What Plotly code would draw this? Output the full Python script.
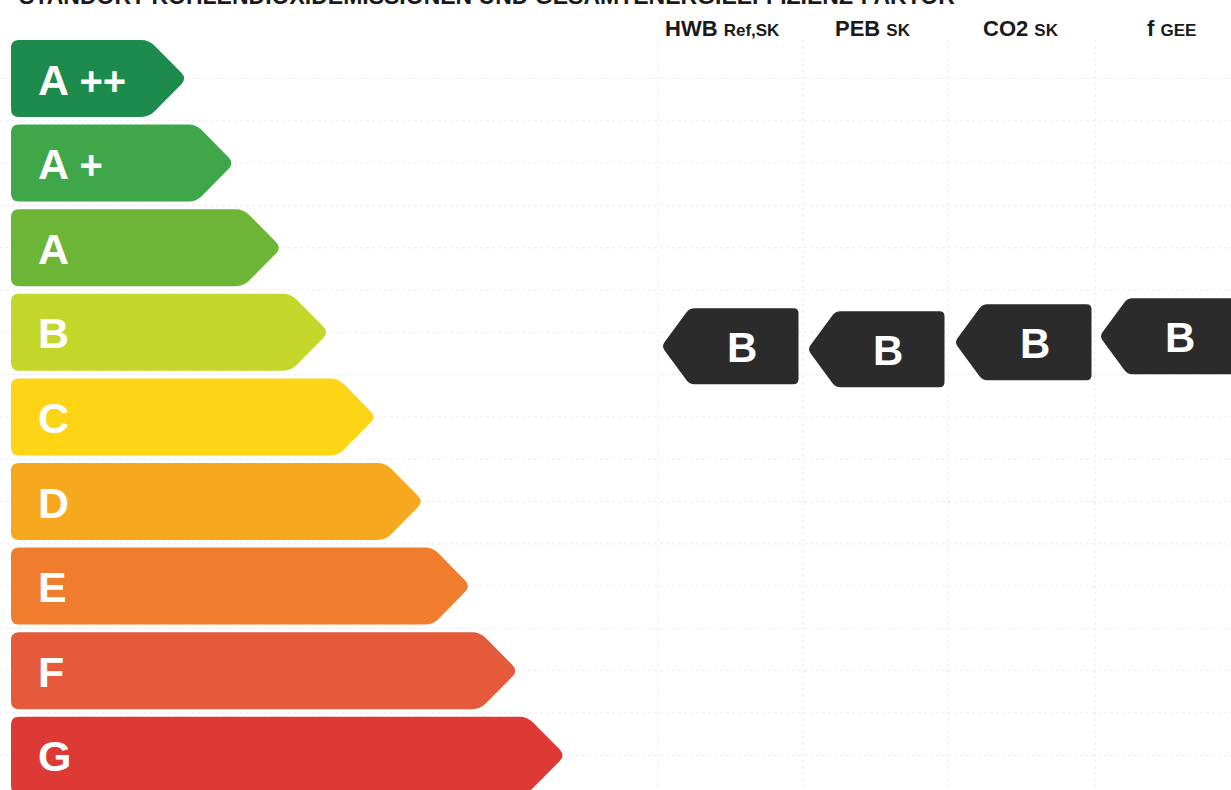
import plotly.graph_objects as go

# ---------------- data ----------------
classes = ["A++", "A+", "A", "B", "C", "D", "E", "F", "G"]
class_colors = ["#1d8b4b", "#3fa649", "#6db536", "#c3d72b", "#fdd516",
                "#f6a91f", "#f07c2d", "#e45a3b", "#de3a35"]
indicators = ["HWB", "PEB", "CO2", "f"]
indicator_subs = ["Ref,SK", "SK", "SK", "GEE"]
ratings = ["B", "B", "B", "B"]
title_text = "STANDORT-KOHLENDIOXIDEMISSIONEN UND GESAMTENERGIEEFFIZIENZ-FAKTOR"

# ---------------- layout geometry ----------------
W, H = 1231, 790
row_top0, row_pitch, row_h = 40.0, 84.6, 77.0
arrow_left, tip0, tip_step, point_len = 11.0, 187.0, 47.3, 38.0
col_centers = [730.0, 876.0, 1023.0, 1169.0]
col_lines = [658.0, 803.0, 948.0, 1095.0]
head_dx = [-8.0, -3.0, -2.0, 2.0]
marker_dy = [14.0, 17.0, 10.0, 4.0]   # scan skew of the result markers
marker_dx = [0.0, 0.0, 0.0, -1.0]
marker_w, marker_h, marker_pt = 137.0, 76.0, 28.0
FONT = "Liberation Sans, Arial, sans-serif"


def rounded_path(pts, r):
    n = len(pts)
    segs = []
    for i in range(n):
        p0 = pts[i - 1]
        p1 = pts[i]
        p2 = pts[(i + 1) % n]
        def towards(a, b, d):
            dx, dy = b[0] - a[0], b[1] - a[1]
            L = (dx * dx + dy * dy) ** 0.5
            d = min(d, L / 2)
            return (a[0] + dx / L * d, a[1] + dy / L * d)
        a = towards(p1, p0, r)
        b = towards(p1, p2, r)
        segs.append((a, p1, b))
    d = "M %.2f,%.2f " % segs[0][0]
    for i, (a, c, b) in enumerate(segs):
        if i > 0:
            d += "L %.2f,%.2f " % a
        d += "Q %.2f,%.2f %.2f,%.2f " % (c[0], c[1], b[0], b[1])
    d += "Z"
    return d


shapes = []
annotations = []

# faint dotted grid of the form
grid_col = "rgba(200,205,210,0.4)"
k = 0
while True:
    y = row_top0 + row_h / 2 + k * row_pitch / 2
    if y > H:
        break
    shapes.append(dict(type="line", xref="x", yref="y", x0=0, x1=W, y0=y, y1=y,
                       line=dict(color=grid_col, width=1, dash="dot"), layer="below"))
    k += 1
for xl in col_lines:
    shapes.append(dict(type="line", xref="x", yref="y", x0=xl, x1=xl, y0=40, y1=H,
                       line=dict(color=grid_col, width=1, dash="dot"), layer="below"))

# class arrows
for i, (cls, col) in enumerate(zip(classes, class_colors)):
    y0 = row_top0 + i * row_pitch
    y1 = y0 + row_h
    ym = (y0 + y1) / 2
    tip = tip0 + i * tip_step
    xb = tip - point_len
    pts = [(arrow_left, y0), (xb, y0), (tip, ym), (xb, y1), (arrow_left, y1)]
    shapes.append(dict(type="path", xref="x", yref="y", path=rounded_path(pts, 8),
                       fillcolor=col, line=dict(width=0), layer="above"))
    letter = cls[0]
    extra = cls[1:]
    txt = letter
    if extra:
        txt += " <span style='font-size:40px'>" + extra + "</span>"
    annotations.append(dict(x=36, y=ym + 1, xref="x", yref="y", text=txt, showarrow=False,
                            xanchor="left", yanchor="middle",
                            font=dict(family=FONT, size=43, color="white", weight="bold")))

# result markers
for j, (ind, sub, rat) in enumerate(zip(indicators, indicator_subs, ratings)):
    ri = classes.index(rat)
    cy = row_top0 + ri * row_pitch + row_h / 2 + marker_dy[j]
    cx = col_centers[j] + marker_dx[j]
    xl = cx - marker_w / 2
    xr = cx + marker_w / 2
    y0 = cy - marker_h / 2
    y1 = cy + marker_h / 2
    pts = [(xl, cy), (xl + marker_pt, y0), (xr, y0), (xr, y1), (xl + marker_pt, y1)]
    shapes.append(dict(type="path", xref="x", yref="y", path=rounded_path(pts, 5),
                       fillcolor="#2b2b2c", line=dict(width=0), layer="above"))
    annotations.append(dict(x=cx + 12, y=cy + 1, xref="x", yref="y", text=rat, showarrow=False,
                            xanchor="center", yanchor="middle",
                            font=dict(family=FONT, size=42, color="white", weight="bold")))
    # header
    head = ind + " <span style='font-size:17px'>" + sub + "</span>"
    annotations.append(dict(x=col_centers[j] + head_dx[j], y=28, xref="x", yref="y", text=head,
                            showarrow=False, xanchor="center", yanchor="middle",
                            font=dict(family=FONT, size=22, color="#1a1a1a", weight="bold")))

# cut-off title at the very top of the scan (paper ref so it is not hidden off-range)
annotations.append(dict(x=17 / W, y=1 + 4 / H, xref="paper", yref="paper", text=title_text,
                        showarrow=False, xanchor="left", yanchor="middle",
                        font=dict(family=FONT, size=23, color="#1a1a1a", weight="bold")))

fig = go.Figure()
fig.add_trace(go.Scatter(x=[0, W], y=[0, H], mode="markers",
                         marker=dict(opacity=0), hoverinfo="skip", showlegend=False))
fig.update_layout(
    width=W, height=H,
    margin=dict(l=0, r=0, t=0, b=0),
    paper_bgcolor="white", plot_bgcolor="white",
    xaxis=dict(range=[0, W], visible=False, fixedrange=True),
    yaxis=dict(range=[H, 0], visible=False, fixedrange=True),
    shapes=shapes, annotations=annotations, showlegend=False,
)
fig.write_html("out.html", config={"displayModeBar": False},
               post_script="document.body.style.margin='0';document.body.style.overflow='hidden';")
